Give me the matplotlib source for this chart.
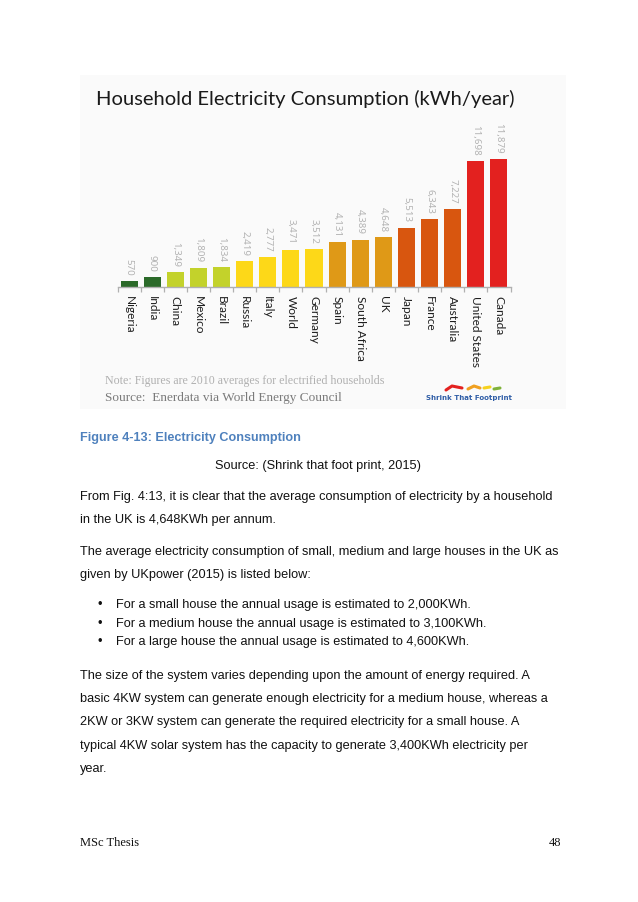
import matplotlib.pyplot as plt
from matplotlib.patches import Rectangle

countries = ["Nigeria", "India", "China", "Mexico", "Brazil", "Russia", "Italy",
             "World", "Germany", "Spain", "South Africa", "UK", "Japan", "France",
             "Australia", "United States", "Canada"]
kwh = [570, 900, 1349, 1809, 1834, 2419, 2777, 3471, 3512, 4131, 4389, 4648,
       5513, 6343, 7227, 11698, 11879]
colors = ["#2b6a29", "#2b6a29", "#c3d22b", "#c3d22b", "#c3d22b", "#fdd818",
          "#fdd818", "#fdd818", "#fdd818", "#df9917", "#df9917", "#df9917",
          "#d8560f", "#d8560f", "#d8560f", "#e3211f", "#e3211f"]

W, H = 638, 903
fig = plt.figure(figsize=(W / 100, H / 100), dpi=100)
fig.patch.set_facecolor("white")

# page layer in pixel coordinates
page = fig.add_axes([0, 0, 1, 1])
page.set_xlim(0, W)
page.set_ylim(H, 0)
page.axis("off")

# chart image background
page.add_patch(Rectangle((80, 76), 486, 334, facecolor="#fafafa", edgecolor="none"))
page.text(96, 99, "Household Electricity Consumption (kWh/year)", family="Lato",
          fontsize=14.5, color="#1a1a1a", va="center", ha="left")

# bar chart
base_y, top_y, x0, x1 = 288, 150, 117.5, 510.5
ax = fig.add_axes([x0 / W, 1 - base_y / H, (x1 - x0) / W, (base_y - top_y) / H])
ax.patch.set_alpha(0)
pos = list(range(len(countries)))
ax.bar(pos, kwh, width=0.74, color=colors)
ax.set_xlim(-0.5, len(countries) - 0.5)
ax.set_ylim(0, (base_y - top_y) / 0.010775)
for s in ["top", "left", "right"]:
    ax.spines[s].set_visible(False)
ax.spines["bottom"].set_color("#b0b0b0")
ax.spines["bottom"].set_linewidth(1.0)
ax.set_yticks([])
ax.set_xticks([p - 0.5 for p in pos] + [len(countries) - 0.5])
ax.set_xticklabels([])
ax.tick_params(axis="x", direction="out", length=3.5, width=0.9, color="#b0b0b0")

for p, v, c in zip(pos, kwh, countries):
    ax.annotate(f"{v:,}", (p, v), xytext=(0, 4.5), textcoords="offset points",
                rotation=270, ha="center", va="bottom", family="Noto Sans",
                fontsize=7.0, color="#b3b3b3")
    ax.annotate(c, (p, 0), xytext=(0, -6), textcoords="offset points",
                rotation=270, ha="center", va="top", family="Lato",
                fontsize=8.6, color="#1e1e1e", annotation_clip=False)

page.text(105, 381, "Note: Figures are 2010 averages for electrified households",
          family="Liberation Serif", fontsize=8.6, color="#b0b0b0", va="center")
page.text(105, 398, "Source:  Enerdata via World Energy Council",
          family="Liberation Serif", fontsize=9.5, color="#7a7a7a", va="center")

# logo
page.text(469, 398, "Shrink That Footprint", family="DejaVu Sans",
          fontsize=5.0, fontweight="bold", color="#2f5da6", ha="center", va="center")
for xs, ys, col in [((446, 452, 462), (391, 387, 389), "#e3211f"),
                    ((468, 474, 480), (390, 387, 389), "#f0a020"),
                    ((484, 490), (389, 388), "#f6d21e"),
                    ((494, 500), (390, 389), "#7fb23a")]:
    page.plot(xs, ys, color=col, lw=2.2, solid_capstyle="round")

# document text
body = dict(family="Liberation Sans", fontsize=9.2, color="#111111", va="center")
page.text(80, 438, "Figure 4-13: Electricity Consumption", family="Liberation Sans",
          fontsize=9.1, fontweight="bold", color="#4f81bd", va="center")
page.text(318, 466, "Source: (Shrink that foot print, 2015)", ha="center", **body)

lines = [
    (497, "From Fig. 4:13, it is clear that the average consumption of electricity by a household"),
    (520, "in the UK is 4,648KWh per annum."),
    (552, "The average electricity consumption of small, medium and large houses in the UK as"),
    (575, "given by UKpower (2015) is listed below:"),
    (676, "The size of the system varies depending upon the amount of energy required. A"),
    (699, "basic 4KW system can generate enough electricity for a medium house, whereas a"),
    (722, "2KW or 3KW system can generate the required electricity for a small house. A"),
    (746, "typical 4KW solar system has the capacity to generate 3,400KWh electricity per"),
    (769, "year."),
]
for y, t in lines:
    page.text(80, y, t, **body)

bullets = [
    (605, "For a small house the annual usage is estimated to 2,000KWh."),
    (624, "For a medium house the annual usage is estimated to 3,100KWh."),
    (642, "For a large house the annual usage is estimated to 4,600KWh."),
]
for y, t in bullets:
    page.text(98, y, "\u2022", **body)
    page.text(116, y, t, **body)

page.text(80, 843, "MSc Thesis", family="Liberation Serif", fontsize=9, color="#111111", va="center")
page.text(561, 843, "48", family="Liberation Serif", fontsize=9, color="#111111",
          va="center", ha="right")

fig.savefig("out.png", dpi=100)
